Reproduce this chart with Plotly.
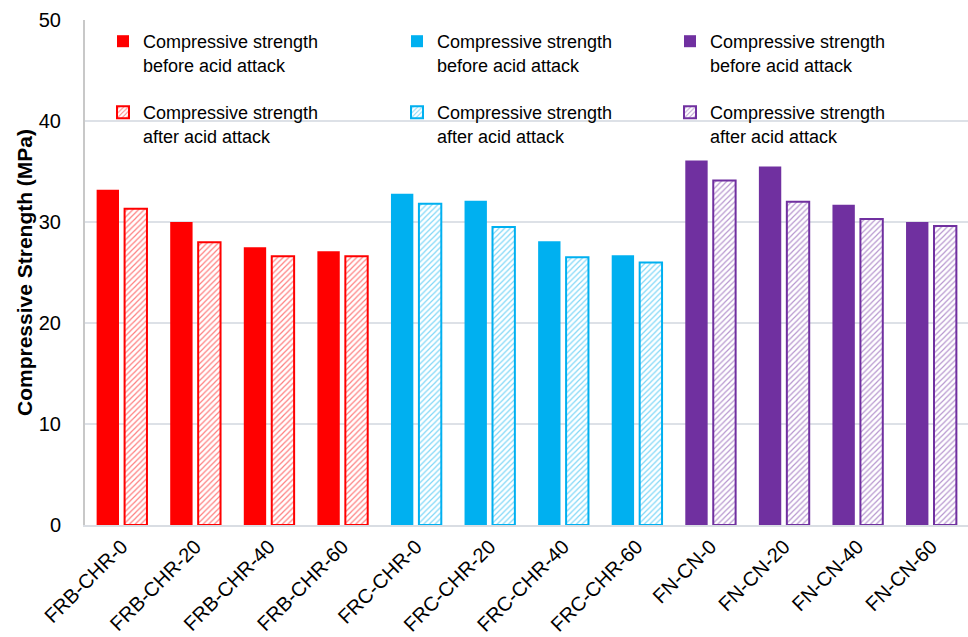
import plotly.graph_objects as go

# Mix designs, grouped by fibre/binder family
frb_mixes = ["FRB-CHR-0", "FRB-CHR-20", "FRB-CHR-40", "FRB-CHR-60"]
frc_mixes = ["FRC-CHR-0", "FRC-CHR-20", "FRC-CHR-40", "FRC-CHR-60"]
fn_mixes = ["FN-CN-0", "FN-CN-20", "FN-CN-40", "FN-CN-60"]

# Compressive strength (MPa) before and after acid exposure
frb_before = [33.2, 30.0, 27.5, 27.1]
frb_after = [31.3, 28.0, 26.6, 26.6]
frc_before = [32.8, 32.1, 28.1, 26.7]
frc_after = [31.8, 29.5, 26.5, 26.0]
fn_before = [36.1, 35.5, 31.7, 30.0]
fn_after = [34.1, 32.0, 30.3, 29.6]

label_before = "Compressive strength<br>before acid attack"
label_after = "Compressive strength<br>after acid attack"

W, H = 968, 637
ML, MR, MT, MB = 85, 0, 20, 112

families = [
    (frb_mixes, frb_before, frb_after, "#FF0000", "legend", "legend2"),
    (frc_mixes, frc_before, frc_after, "#00B0F0", "legend3", "legend4"),
    (fn_mixes, fn_before, fn_after, "#7030A0", "legend5", "legend6"),
]

fig = go.Figure()
for mixes, before, after, color, leg_a, leg_b in families:
    fig.add_trace(go.Bar(
        x=mixes, y=before, name=label_before, offsetgroup="before",
        marker=dict(color=color, line=dict(width=0)),
        legend=leg_a, hoverinfo="x+y",
    ))
    fig.add_trace(go.Bar(
        x=mixes, y=after, name=label_after, offsetgroup="after",
        marker=dict(
            color="white",
            line=dict(color=color, width=2),
            pattern=dict(shape="/", fgcolor=color, bgcolor="white",
                         size=4, solidity=0.3, fillmode="overlay"),
        ),
        legend=leg_b, hoverinfo="x+y",
    ))

legend_font = dict(family="Liberation Sans, Arial, sans-serif", size=18, color="#000000")


def paper_x(px):
    return (px - ML) / (W - ML - MR)


def paper_y(py):
    return (H - MB - py) / (H - MT - MB)


def legend_at(px, py):
    return dict(
        xref="paper", yref="paper",
        x=paper_x(px), y=paper_y(py), xanchor="left", yanchor="top",
        bgcolor="rgba(0,0,0,0)", borderwidth=0,
        font=legend_font, valign="top", itemclick=False,
    )


# White panels behind the three legend columns (drawn over the gridlines)
panels = [(128, 334), (423, 606), (695, 879)]
shapes = [
    dict(type="rect", xref="paper", yref="paper",
         x0=paper_x(a), x1=paper_x(b), y0=paper_y(150), y1=paper_y(14),
         fillcolor="white", line=dict(width=0), layer="between")
    for a, b in panels
]

fig.update_layout(
    width=W, height=H,
    margin=dict(l=ML, r=MR, t=MT, b=MB, autoexpand=False),
    paper_bgcolor="white", plot_bgcolor="white",
    showlegend=True,
    barmode="group", bargap=0.24, bargroupgap=0.2,
    font=dict(family="Liberation Sans, Arial, sans-serif", color="#000000"),
    shapes=shapes,
    legend=legend_at(103, 23),
    legend2=legend_at(103, 94),
    legend3=legend_at(397, 23),
    legend4=legend_at(397, 94),
    legend5=legend_at(670, 23),
    legend6=legend_at(670, 94),
    xaxis=dict(
        categoryorder="array", categoryarray=frb_mixes + frc_mixes + fn_mixes,
        tickangle=-45, tickfont=dict(size=20),
        showline=True, linecolor="#d9dde3", linewidth=2,
        ticks="", showgrid=False, automargin=False,
    ),
    yaxis=dict(
        range=[0, 50], dtick=10, tickfont=dict(size=20),
        showgrid=True, gridcolor="#dde1e7", gridwidth=1.5,
        showline=True, linecolor="#c8c8c8", linewidth=2,
        ticks="", zeroline=False, ticklabelstandoff=18, automargin=False,
        title=dict(text="<b>Compressive Strength (MPa)</b>",
                   font=dict(size=21), standoff=0),
    ),
)

fig.write_html("out.html")
